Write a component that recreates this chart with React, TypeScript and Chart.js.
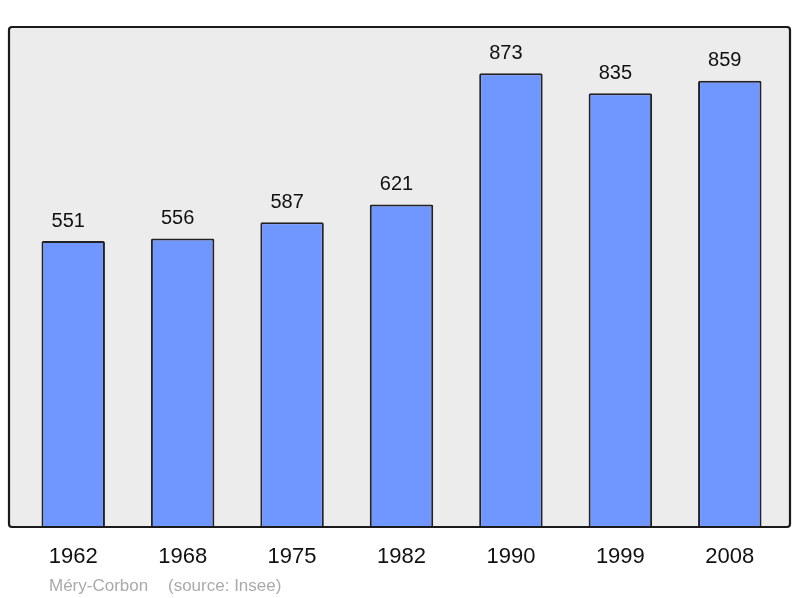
import React, { useEffect, useRef } from "react";
import { Chart, registerables } from "chart.js";

Chart.register(...registerables);

const years = ["1962", "1968", "1975", "1982", "1990", "1999", "2008"];
const population = [551, 556, 587, 621, 873, 835, 859];
const placeName = "Méry-Corbon";
const sourceText = "(source: Insee)";

const BOX = { left: 9, top: 27, right: 790, bottom: 527 };

const boxPlugin = {
  id: "boxPlugin",
  beforeDraw(chart: any) {
    const ctx = chart.ctx;
    ctx.save();
    ctx.fillStyle = "#ffffff";
    ctx.fillRect(0, 0, chart.width, chart.height);
    ctx.beginPath();
    (ctx as any).roundRect(BOX.left, BOX.top, BOX.right - BOX.left, BOX.bottom - BOX.top, 3);
    ctx.fillStyle = "#ececec";
    ctx.fill();
    ctx.restore();
  },
  afterDatasetsDraw(chart: any) {
    const ctx = chart.ctx;
    ctx.save();
    ctx.beginPath();
    (ctx as any).roundRect(BOX.left, BOX.top, BOX.right - BOX.left, BOX.bottom - BOX.top, 3);
    ctx.lineWidth = 2.2;
    ctx.strokeStyle = "#1a1a1a";
    ctx.stroke();
    // value labels
    const meta = chart.getDatasetMeta(0);
    ctx.fillStyle = "#111111";
    ctx.font = "20px 'Liberation Sans', Arial, sans-serif";
    ctx.textAlign = "center";
    ctx.textBaseline = "alphabetic";
    meta.data.forEach((bar: any, i: number) => {
      ctx.fillText(String(population[i]), bar.x - 5, bar.y - 14.5);
    });
    // footer
    ctx.fillStyle = "#aaaaaa";
    ctx.font = "17px 'Liberation Sans', Arial, sans-serif";
    ctx.textAlign = "left";
    ctx.fillText(placeName, 49, 590.5);
    ctx.fillText(sourceText, 168, 590.5);
    ctx.restore();
  },
};

export default function App() {
  const ref = useRef<HTMLCanvasElement | null>(null);
  useEffect(() => {
    if (!ref.current) return;
    const chart = new Chart(ref.current, {
      type: "bar",
      data: {
        labels: years,
        datasets: [
          {
            data: population,
            backgroundColor: "#7096ff",
            borderColor: "#222222",
            borderWidth: 2,
            borderRadius: 1.5,
            borderSkipped: false,
            barPercentage: 0.58,
            categoryPercentage: 1,
          },
        ],
      },
      options: {
        animation: false,
        responsive: false,
        maintainAspectRatio: false,
        layout: { padding: { top: 27, left: 18.5, right: 15.5, bottom: 20 } },
        plugins: {
          legend: { display: false },
          tooltip: { enabled: false },
          title: { display: false },
        },
        scales: {
          x: {
            grid: { display: false, drawTicks: false },
            border: { display: false },
            ticks: {
              color: "#111111",
              font: { family: "'Liberation Sans', Arial, sans-serif", size: 22 },
              padding: 16,
              maxRotation: 0,
            },
            afterFit(axis: any) {
              axis.height = 50;
            },
          },
          y: {
            display: false,
            min: 0,
            max: 962,
          },
        },
      },
      plugins: [boxPlugin],
    });
    return () => chart.destroy();
  }, []);
  return (
    <canvas
      ref={ref}
      width={800}
      height={598}
      style={{ position: "fixed", left: 0, top: 0, width: 800, height: 598 }}
    />
  );
}
